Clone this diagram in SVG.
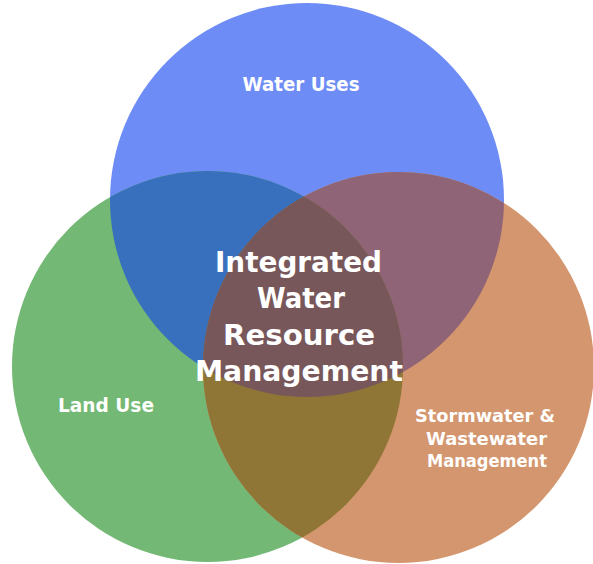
<svg xmlns="http://www.w3.org/2000/svg" width="593" height="564" viewBox="0 0 593 564">
<style>
text{font-family:"DejaVu Sans","Liberation Sans",sans-serif;font-weight:bold;fill:#ffffff;text-anchor:middle}
.big{font-size:29px}
.sm{font-size:19px}
.st{font-size:17.5px}
</style>
<defs>
<clipPath id="cB"><circle cx="307" cy="200" r="197"/></clipPath>
<clipPath id="cG"><circle cx="207.5" cy="366.5" r="195.5"/></clipPath>
<clipPath id="cO"><circle cx="398.5" cy="367.5" r="195.5"/></clipPath>
</defs>
<rect width="593" height="564" fill="#ffffff"/>
<g id="water-uses">
<circle cx="307" cy="200" r="197" fill="#6e8cf5"/>
</g>
<g id="land-use">
<circle cx="207.5" cy="366.5" r="195.5" fill="#73b874"/>
</g>
<g id="stormwater">
<circle cx="398.5" cy="367.5" r="195.5" fill="#d4966e"/>
</g>
<g id="overlaps">
<g clip-path="url(#cB)"><circle cx="207.5" cy="366.5" r="195.5" fill="#3870be"/></g>
<g clip-path="url(#cB)"><circle cx="398.5" cy="367.5" r="195.5" fill="#8e6476"/></g>
<g clip-path="url(#cG)"><circle cx="398.5" cy="367.5" r="195.5" fill="#8f7636"/></g>
<g clip-path="url(#cB)"><g clip-path="url(#cG)"><circle cx="398.5" cy="367.5" r="195.5" fill="#78575a"/></g></g>
</g>
<g id="labels">
<text class="sm" x="301" y="91" textLength="117" lengthAdjust="spacingAndGlyphs">Water Uses</text>
<text class="sm" x="106" y="412" textLength="96" lengthAdjust="spacingAndGlyphs">Land Use</text>
<text class="st" x="485" y="422" textLength="140" lengthAdjust="spacingAndGlyphs">Stormwater &amp;</text>
<text class="st" x="486.5" y="445" textLength="121" lengthAdjust="spacingAndGlyphs">Wastewater</text>
<text class="st" x="487" y="467" textLength="120" lengthAdjust="spacingAndGlyphs">Management</text>
</g>
<g id="center">
<text class="big" x="298.5" y="272" textLength="167" lengthAdjust="spacingAndGlyphs">Integrated</text>
<text class="big" x="301" y="308" textLength="88" lengthAdjust="spacingAndGlyphs">Water</text>
<text class="big" x="299" y="345" textLength="152" lengthAdjust="spacingAndGlyphs">Resource</text>
<text class="big" x="299" y="381" textLength="208" lengthAdjust="spacingAndGlyphs">Management</text>
</g>
</svg>
